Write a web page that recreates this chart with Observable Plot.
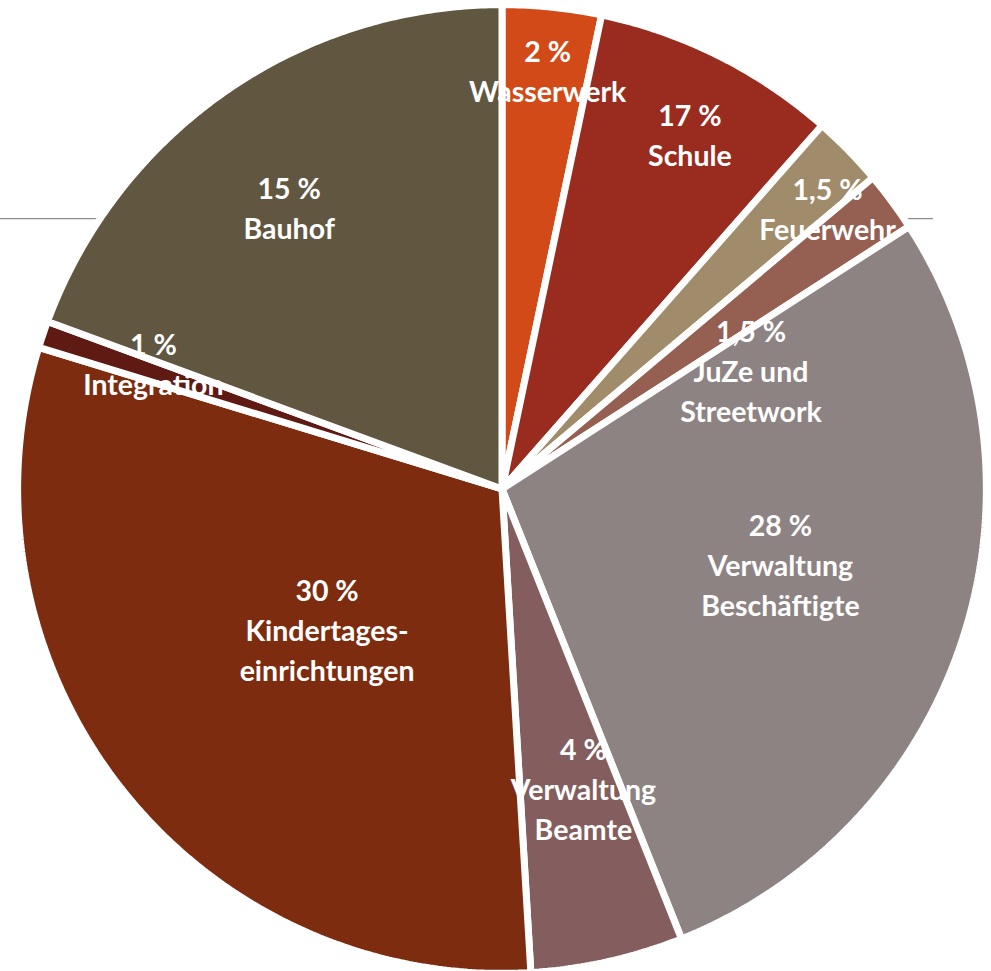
<!DOCTYPE html>
<html>
<head>
<meta charset="utf-8">
<script src="https://cdn.jsdelivr.net/npm/d3@7"></script>
<script src="https://cdn.jsdelivr.net/npm/@observablehq/plot@0.6"></script>
<style>
  html, body { margin: 0; padding: 0; background: #ffffff; }
  #chart svg { display: block; }
</style>
</head>
<body>
<div id="chart"></div>
<script>
// Slice order clockwise from 12 o'clock
const categories = ["Wasserwerk", "Schule", "Feuerwehr", "JuZe und Streetwork", "Verwaltung Beschäftigte", "Verwaltung Beamte", "Kindertageseinrichtungen", "Integration", "Bauhof"];
// slice sizes as drawn in the picture (share of the circle, %)
const shares = [3.3, 8.2, 2.4, 2.0, 28.1, 5.1, 30.7, 0.9, 19.4];
// printed labels
const percentLabels = ["2 %", "17 %", "1,5 %", "1,5 %", "28 %", "4 %", "30 %", "1 %", "15 %"];
const nameLabels = ["Wasserwerk", "Schule", "Feuerwehr", "JuZe und\nStreetwork", "Verwaltung\nBeschäftigte", "Verwaltung\nBeamte", "Kindertages-\neinrichtungen", "Integration", "Bauhof"];
const sliceColors = ["#d24a18", "#992b1f", "#a08c6a", "#955f52", "#8e8383", "#845e5e", "#7e2c0f", "#601a14", "#615640"];

// label placement (angle in degrees clockwise from north, radius as fraction)
const labelAngle = [6.2, 28, 49.4, 65, 105.6, 165, 230.9, 289.5, 322.6];
const labelRadius = [0.87, 0.83, 0.89, 0.57, 0.6, 0.65, 0.47, 0.77, 0.73];

const total = d3.sum(shares);
const R = 1.007;
const rad = (deg) => deg * Math.PI / 180;

// build wedge outlines for Plot.area (center -> arc)
const wedgePoints = [];
let cum = 0;
categories.forEach((cat, i) => {
  const a0 = cum / total * 360;
  cum += shares[i];
  const a1 = cum / total * 360;
  const n = Math.max(2, Math.ceil((a1 - a0) / 0.5));
  for (let k = 0; k <= n; k++) {
    const a = rad(a0 + (a1 - a0) * k / n);
    wedgePoints.push({cat, x1: 0, y1: 0, x2: R * Math.sin(a), y2: R * Math.cos(a)});
  }
});

const labels = categories.map((cat, i) => ({
  cat,
  text: percentLabels[i] + "\n" + nameLabels[i],
  x: labelRadius[i] * Math.sin(rad(labelAngle[i])),
  y: labelRadius[i] * Math.cos(rad(labelAngle[i]))
}));

const chart = Plot.plot({
  width: 991,
  height: 971,
  margin: 0,
  x: {domain: [-1, 1], range: [21, 983], axis: null},
  y: {domain: [-1, 1], range: [970, 8], axis: null},
  color: {domain: categories, range: sliceColors},
  marks: [
    Plot.ruleY([0.563], {x1: -1.1, x2: 0.896, stroke: "#8c8c8c", strokeWidth: 1.2}),
    Plot.area(wedgePoints, {
      x1: "x1", y1: "y1", x2: "x2", y2: "y2",
      z: "cat", fill: "cat",
      stroke: "#ffffff", strokeWidth: 7, strokeLinejoin: "miter",
      curve: "linear"
    }),
    Plot.text(labels, {
      x: "x", y: "y", text: "text",
      fill: "#ffffff",
      fontSize: 28.5,
      fontWeight: "bold",
      fontFamily: "Lato, 'Open Sans', sans-serif",
      lineHeight: 40 / 28.5,
      lineAnchor: "middle",
      textAnchor: "middle",
      dy: -4
    })
  ]
});

document.getElementById("chart").appendChild(chart);
</script>
</body>
</html>
